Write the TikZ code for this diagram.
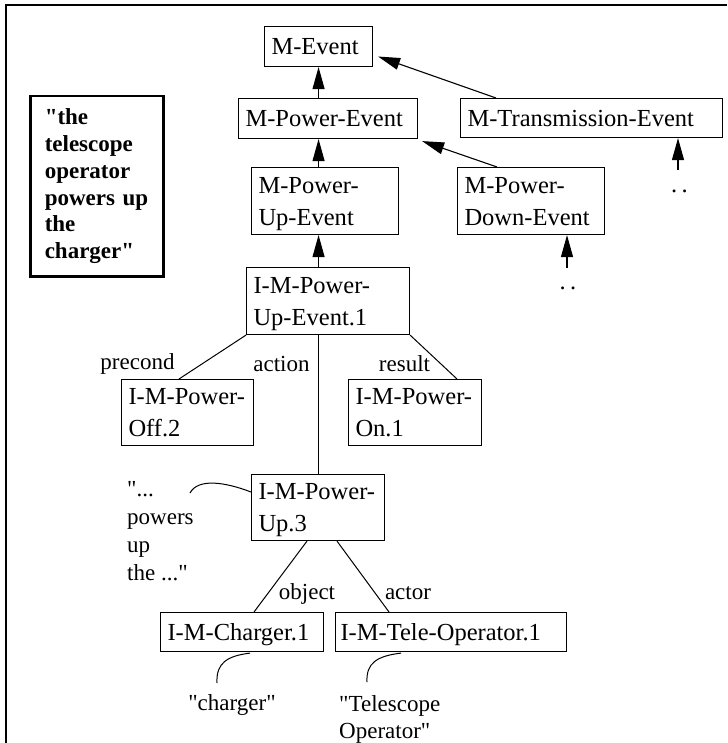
\documentclass[tikz,border=0pt]{standalone}
\usepackage{fontspec}
\setmainfont[Ligatures=TeXOff]{Liberation Serif}
\usetikzlibrary{arrows.meta,calc}
\begin{document}
\begin{tikzpicture}[x=1pt,y=-1pt,
  box/.style={draw, line width=1.1pt, anchor=north west, inner xsep=7pt, inner ysep=1pt,
    align=left, font=\fontsize{24.5}{32}\selectfont, text depth=0pt},
  box2/.style={box, text depth=32pt},
  lbl/.style={inner sep=0pt, font=\fontsize{23}{28}\selectfont},
  dotsty/.style={inner sep=0pt, anchor=base, font=\fontsize{24.5}{30}\selectfont},
  arr/.style={line width=1.1pt, -{Triangle[length=22pt,width=12pt]}},
  ln/.style={line width=1pt}]
\useasboundingbox (0,0) rectangle (727,743);
% frame
\draw[line width=1.3pt] (6,743) -- (6,5) -- (727,5);

% quote box
\node[draw, line width=2.5pt, anchor=north west, minimum width=133pt, minimum height=180pt,
  text width=104pt, inner xsep=14.5pt, align=left,
  font=\bfseries\fontsize{23}{26.7}\selectfont] (quote) at (29,95)
  {"the\\telescope\\operator\\powers up\\the\\charger"};

% boxes
\node[box, minimum width=108pt, minimum height=40pt, text width=94pt] (mev) at (264,26) {M-Event};
\node[box, minimum width=179pt, minimum height=40pt, text width=165pt] (mpe) at (238,98) {M-Power-Event};
\node[box, minimum width=262pt, minimum height=39pt, text width=248pt] (mte) at (460,98) {M-Transmission-Event};
\node[box2, minimum width=147pt, minimum height=67pt, text width=133pt] (mpue) at (251,167) {M-Power-\\Up-Event};
\node[box2, minimum width=147pt, minimum height=67pt, text width=133pt] (mpde) at (457,167) {M-Power-\\Down-Event};
\node[box2, minimum width=163pt, minimum height=67pt, text width=149pt] (imp1) at (246,267) {I-M-Power-\\Up-Event.1};
\node[box2, minimum width=132pt, minimum height=66pt, text width=118pt] (off2) at (121,379) {I-M-Power-\\Off.2};
\node[box2, minimum width=133pt, minimum height=66pt, text width=119pt, inner xsep=7pt] (on1) at (348,379) {I-M-Power-\\On.1};
\node[box2, minimum width=133pt, minimum height=66pt, text width=119pt] (up3) at (251,474) {I-M-Power-\\Up.3};
\node[box, minimum width=163pt, minimum height=39pt, text width=149pt] (chg) at (160,612) {I-M-Charger.1};
\node[box, minimum width=231pt, minimum height=39pt, text width=221pt, inner xsep=5pt] (tele) at (335,612) {I-M-Tele-Operator.1};

% dots
\node[dotsty] (dt1) at (679.5,192.5) {.\kern4.5pt.};
\node[dotsty] (dt2) at (568,289.5) {.\kern4.5pt.};
\coordinate (dt1top) at (678,170);
\coordinate (dt2top) at (567,268);

% inheritance arrows
\draw[arr] (mpe.north -| mev.south) -- (mev.south);
\draw[arr] (mpue.north -| mev.south) -- (mpe.south -| mev.south);
\draw[arr] (imp1.north -| mev.south) -- (mpue.south -| mev.south);
\draw[arr] ($(mte.north west)+(36,0)$) -- ($(mev.east)+(5,10)$);
\draw[arr] ($(mpde.north west)+(40,0)$) -- ($(mpe.south east)+(4,2)$);
\draw[arr] (dt1top) -- (dt1top |- mte.south);
\draw[arr] (dt2top) -- (dt2top |- mpde.south);

% role links
\draw[ln] (imp1.south west) -- ($(off2.north west)+(58,0)$);
\draw[ln] (imp1.south -| up3.north) -- (up3.north);
\draw[ln] (imp1.south east) -- ($(on1.north west)+(109,0)$);
\draw[ln] ($(up3.south west)+(56,0)$) -- ($(chg.north west)+(94,0)$);
\draw[ln] ($(up3.south west)+(86,0)$) -- ($(tele.north west)+(54,0)$);

% labels
\node[lbl, anchor=base] (lpre) at (137.5,369.3) {precond};
\node[lbl, anchor=base] (lact) at (281.5,371) {action};
\node[lbl, anchor=base] (lres) at (404.5,371) {result};
\node[lbl, anchor=base] (lobj) at (307,599) {object};
\node[lbl, anchor=base] (lactor) at (408,599) {actor};

% lexical texts
\node[lbl, anchor=north west, align=left] (tq) at (127,481.5) {"...\\powers\\up\\the ..."};
\node[lbl, anchor=base] (tchg) at (232,710) {"charger"};
\node[lbl, anchor=north west, align=left, font=\fontsize{23}{27}\selectfont] (ttel) at (339,695) {"Telescope\\Operator"};
\coordinate (qe) at (190,493);
\coordinate (qc) at (217,683);
\coordinate (qt) at (367,682);

\draw[ln] ($(up3.north west)+(0,18)$) .. controls (225,482) and (198,478) .. (qe);
\draw[ln] ($(chg.south west)+(90,1)$) .. controls (227,656) and (216,663) .. (qc);
\draw[ln] ($(tele.south west)+(66,1)$) .. controls (377,656) and (366,663) .. (qt);
\end{tikzpicture}
\end{document}
